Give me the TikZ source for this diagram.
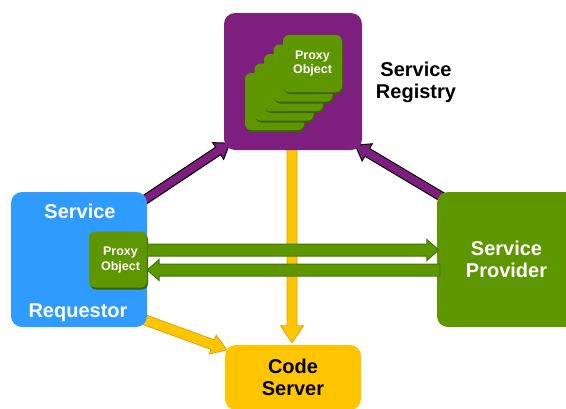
\documentclass[tikz,border=0pt]{standalone}
\usepackage{fontspec}
\setmainfont{Liberation Sans}
\usetikzlibrary{calc,shadows,backgrounds}

\definecolor{regpurple}{HTML}{7E1F7F}
\definecolor{reqblue}{HTML}{2F9BFF}
\definecolor{provgreen}{HTML}{5E9600}
\definecolor{darkgreen}{HTML}{3A7A00}
\definecolor{cardshadow}{HTML}{3D6300}
\definecolor{codeyellow}{HTML}{FFC600}
\definecolor{codeorange}{HTML}{E0A000}

% block arrow: style, from, to, half shaft, head length, half head
\newcommand{\blockarrow}[6]{%
  \path (#2) coordinate (ba-s) (#3) coordinate (ba-t);
  \path ($(ba-t)!#5!(ba-s)$) coordinate (ba-h);
  \draw[#1] ($(ba-s)!#4!90:(ba-t)$) -- ($(ba-h)!#4!90:(ba-t)$)
    -- ($(ba-h)!#6!90:(ba-t)$) -- (ba-t) -- ($(ba-h)!#6!-90:(ba-t)$)
    -- ($(ba-h)!#4!-90:(ba-t)$) -- ($(ba-s)!#4!-90:(ba-t)$) -- cycle;}

\tikzset{
  box/.style={rounded corners=11pt, inner sep=0pt},
  bigtext/.style={font=\fontsize{20}{22}\selectfont\bfseries, align=center, inner sep=0pt},
  card/.style={rounded corners=6pt, fill=provgreen, minimum width=59pt, minimum height=57pt,
    inner sep=0pt, text=white, align=center, font=\fontsize{12.5}{14}\selectfont\bfseries,
    drop shadow={shadow xshift=1pt, shadow yshift=-2pt, fill=cardshadow, opacity=1}},
  purplearrow/.style={fill=regpurple, draw=black, line width=1pt},
  yellowarrow/.style={fill=codeyellow, draw=codeorange, line width=0.8pt},
  greenarrow/.style={fill=provgreen, draw=darkgreen, line width=1pt}
}

\begin{document}
\begin{tikzpicture}[x=1pt, y=-1pt]
  \useasboundingbox (0,0) rectangle (566,408);

  % boxes
  \node[box, fill=regpurple, minimum width=138pt, minimum height=137pt] (reg) at (293,81.5) {};
  \node[box, fill=reqblue, minimum width=136pt, minimum height=135pt] (req) at (79,259.5) {};
  \node[box, fill=provgreen, minimum width=139pt, minimum height=135pt, text=white, bigtext] (prov) at (506.5,259.5) {Service\\Provider};
  \node[box, fill=codeyellow, minimum width=136pt, minimum height=65pt, bigtext] (code) at (293,377.5) {Code\\Server};

  % labels
  \node[bigtext] (regtext) at (416,82) {Service\\Registry};
  \node[bigtext, text=white, anchor=north] (reqtop) at ($(req.north)+(1,12)$) {Service};
  \node[bigtext, text=white, anchor=south] (reqbot) at ($(req.south)+(-1,-5)$) {Requestor};

  % proxy stack in registry
  \foreach \i in {4,...,1}
    \node[card] (card\i) at (312.5-9.5*\i, 63.5+9.5*\i) {};
  \node[card] (card0) at (312.5,63.5) {Proxy\\Object};

  % proxy in requestor
  \node[card, minimum width=58pt, minimum height=56pt, font=\fontsize{12.5}{15}\selectfont\bfseries] (prox) at (118,259.5) {\hspace*{5pt}Proxy\\\hspace*{5pt}Object};

  \begin{scope}[on background layer]
    \blockarrow{purplearrow}{$(req.north east)+(-7,11)$}{$(reg.south west)+(6,-7)$}{4.5pt}{14pt}{10pt}
    \blockarrow{purplearrow}{$(prov.north west)+(5,5)$}{$(reg.south east)+(-7,-5)$}{4.5pt}{14pt}{10pt}
    \blockarrow{yellowarrow}{$(reg.south)+(-1,-5)$}{$(code.north)+(-1,-2)$}{5pt}{17pt}{11.5pt}
    \blockarrow{yellowarrow}{$(req.south east)+(-7,-9)$}{$(code.north west)+(2,5)$}{5pt}{15pt}{10pt}
  \end{scope}

  \blockarrow{greenarrow}{$(prox.east)+(0,-9.5)$}{$(prov.west)+(2,-9.5)$}{6pt}{12pt}{10.5pt}
  \blockarrow{greenarrow}{$(prov.west)+(3,10.5)$}{$(prox.east)+(0,10.5)$}{6pt}{12pt}{10.5pt}
\end{tikzpicture}
\end{document}
